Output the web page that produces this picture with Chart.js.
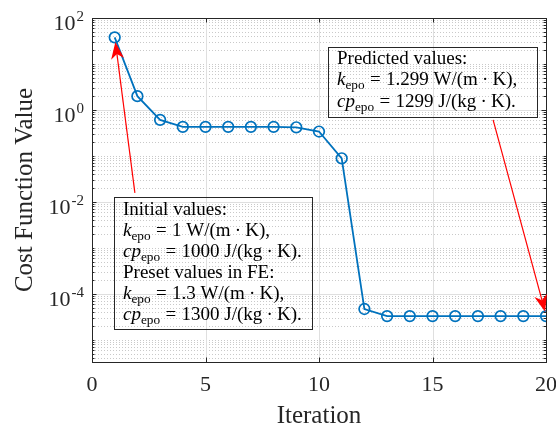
<!DOCTYPE html>
<html>
<head>
<meta charset="utf-8">
<script src="https://cdn.jsdelivr.net/npm/chart.js@4/dist/chart.umd.min.js"></script>
<style>
  html, body { margin: 0; padding: 0; background: #ffffff; }
  #c { display: block; }
</style>
</head>
<body>
<canvas id="c" width="556" height="432"></canvas>
<script>
// ---------- data ----------
const iterations = [1, 2, 3, 4, 5, 6, 7, 8, 9, 10, 11, 12, 13, 14, 15, 16, 17, 18, 19, 20];
const costValues = [38, 2.0, 0.61, 0.43, 0.43, 0.43, 0.43, 0.43, 0.42, 0.34, 0.089, 4.7e-5,
                    3.3e-5, 3.3e-5, 3.3e-5, 3.3e-5, 3.3e-5, 3.3e-5, 3.3e-5, 3.3e-5];
const xTickValues = [0, 5, 10, 15, 20];
const yTickExponents = [2, 0, -2, -4];
const xLimits = [0, 20];
const yLimitExponents = [-5.48, 2];
const xTitle = 'Iteration';
const yTitle = 'Cost Function Value';
const predictedText = ['Predicted values:',
  '*k*_{epo} = 1.299 W/(m · K),',
  '*cp*_{epo} = 1299 J/(kg · K).'];
const initialText = ['Initial values:',
  '*k*_{epo} = 1 W/(m · K),',
  '*cp*_{epo} = 1000 J/(kg · K).',
  'Preset values in FE:',
  '*k*_{epo} = 1.3 W/(m · K),',
  '*cp*_{epo} = 1300 J/(kg · K).'];
// arrows in data coordinates: [tailX, tailY, tipX, tipY]
const arrowInitial = [1.89, 0.0157, 1.03, 30];
const arrowPredicted = [17.67, 0.607, 19.96, 4.1e-5];

// ---------- styles ----------
const SERIF = '"Liberation Serif", "Times New Roman", serif';
const TEXT = '#262626';
const LINE = '#0072BD';

function parseRich(str) {
  const segs = [];
  const re = /\*([^*]+)\*|_\{([^}]+)\}|([^*_]+)/g;
  let m;
  while ((m = re.exec(str)) !== null) {
    if (m[1]) segs.push({ t: m[1], it: true });
    else if (m[2]) segs.push({ t: m[2], sub: true });
    else segs.push({ t: m[3] });
  }
  return segs;
}
function drawRich(ctx, str, x, y, size) {
  for (const s of parseRich(str)) {
    const fs = s.sub ? size * 0.7 : size;
    ctx.font = (s.it ? 'italic ' : '') + fs + 'px ' + SERIF;
    const dy = s.sub ? size * 0.22 : 0;
    if (!s.it && !s.sub) {
      // math-like spacing around relations and binary operators
      const parts = s.t.split(/( = | · )/);
      for (const p of parts) {
        if (p === ' = ') {
          x += size * 0.28;
          ctx.fillText('=', x, y);
          x += ctx.measureText('=').width + size * 0.28;
        } else if (p === ' · ') {
          x += size * 0.22;
          ctx.fillText('·', x, y);
          x += ctx.measureText('·').width + size * 0.22;
        } else if (p.length) {
          ctx.fillText(p, x, y);
          x += ctx.measureText(p).width;
        }
      }
    } else {
      ctx.fillText(s.t, x, y + dy);
      x += ctx.measureText(s.t).width;
    }
  }
}
function drawBox(ctx, lines, left, top, width, height, size, firstBase, step) {
  ctx.save();
  ctx.strokeStyle = TEXT;
  ctx.lineWidth = 1;
  ctx.strokeRect(Math.round(left) + 0.5, Math.round(top) + 0.5, width, height);
  ctx.fillStyle = '#000000';
  ctx.textBaseline = 'alphabetic';
  ctx.textAlign = 'left';
  lines.forEach((ln, i) => drawRich(ctx, ln, left + 9, top + firstBase + i * step, size));
  ctx.restore();
}
function drawArrow(ctx, x0, y0, x1, y1) {
  const ang = Math.atan2(y1 - y0, x1 - x0);
  const L = 17, W = 6.5, back = 12;
  ctx.save();
  ctx.strokeStyle = '#ff0000';
  ctx.fillStyle = '#ff0000';
  ctx.lineWidth = 1.2;
  ctx.beginPath();
  ctx.moveTo(x0, y0);
  ctx.lineTo(x1 - Math.cos(ang) * back, y1 - Math.sin(ang) * back);
  ctx.stroke();
  const c = Math.cos(ang), s = Math.sin(ang);
  const bx = x1 - c * L, by = y1 - s * L;
  ctx.beginPath();
  ctx.moveTo(x1, y1);
  ctx.lineTo(bx - s * W, by + c * W);
  ctx.lineTo(x1 - c * back, y1 - s * back);
  ctx.lineTo(bx + s * W, by - c * W);
  ctx.closePath();
  ctx.fill();
  ctx.restore();
}

const matlabAxes = {
  id: 'matlabAxes',
  beforeDatasetsDraw(chart) {
    const { ctx, chartArea: a, scales: { x, y } } = chart;
    ctx.save();
    ctx.beginPath();
    ctx.rect(a.left, a.top, a.right - a.left, a.bottom - a.top);
    ctx.clip();
    // minor y grid (dotted)
    ctx.strokeStyle = '#c9c9c9';
    ctx.lineWidth = 1;
    ctx.setLineDash([1, 2]);
    for (let e = Math.floor(yLimitExponents[0]); e <= yLimitExponents[1]; e++) {
      for (let k = 1; k <= 9; k++) {
        const v = k * Math.pow(10, e);
        if (k === 1 && yTickExponents.includes(e)) continue;
        const py = Math.round(y.getPixelForValue(v)) + 0.5;
        if (py < a.top || py > a.bottom) continue;
        ctx.beginPath(); ctx.moveTo(a.left, py); ctx.lineTo(a.right, py); ctx.stroke();
      }
    }
    ctx.setLineDash([]);
    // major grid (solid)
    ctx.strokeStyle = '#dfdfdf';
    yTickExponents.forEach(e => {
      const py = Math.round(y.getPixelForValue(Math.pow(10, e))) + 0.5;
      ctx.beginPath(); ctx.moveTo(a.left, py); ctx.lineTo(a.right, py); ctx.stroke();
    });
    xTickValues.forEach(v => {
      const px = Math.round(x.getPixelForValue(v)) + 0.5;
      ctx.beginPath(); ctx.moveTo(px, a.top); ctx.lineTo(px, a.bottom); ctx.stroke();
    });
    ctx.restore();
  },
  afterDatasetsDraw(chart) {
    const { ctx, chartArea: a, scales: { x, y } } = chart;
    ctx.save();
    // ticks (inside)
    ctx.strokeStyle = TEXT;
    ctx.lineWidth = 1;
    xTickValues.forEach(v => {
      const px = Math.round(x.getPixelForValue(v)) + 0.5;
      ctx.beginPath();
      ctx.moveTo(px, a.bottom); ctx.lineTo(px, a.bottom - 4.5);
      ctx.moveTo(px, a.top); ctx.lineTo(px, a.top + 4.5);
      ctx.stroke();
    });
    for (let e = Math.floor(yLimitExponents[0]); e <= yLimitExponents[1]; e++) {
      for (let k = 1; k <= 9; k++) {
        const v = k * Math.pow(10, e);
        const py = Math.round(y.getPixelForValue(v)) + 0.5;
        if (py < a.top - 0.5 || py > a.bottom + 0.5) continue;
        const len = (k === 1 && yTickExponents.includes(e)) ? 4.5 : 2.5;
        ctx.beginPath();
        ctx.moveTo(a.left, py); ctx.lineTo(a.left + len, py);
        ctx.moveTo(a.right, py); ctx.lineTo(a.right - len, py);
        ctx.stroke();
      }
    }
    // frame
    ctx.strokeStyle = TEXT;
    ctx.strokeRect(Math.round(a.left) + 0.5, Math.round(a.top) + 0.5,
                   Math.round(a.right - a.left), Math.round(a.bottom - a.top));
    // y tick labels with superscripts
    ctx.fillStyle = TEXT;
    ctx.textBaseline = 'alphabetic';
    ctx.textAlign = 'left';
    yTickExponents.forEach(e => {
      const py = y.getPixelForValue(Math.pow(10, e));
      ctx.font = '22px ' + SERIF;
      const wBase = ctx.measureText('10').width;
      ctx.font = '15px ' + SERIF;
      const expStr = String(e);
      const wExp = ctx.measureText(expStr).width;
      const rightEdge = a.left - 8;
      const x0 = rightEdge - wExp - wBase - 1;
      ctx.font = '22px ' + SERIF;
      ctx.fillText('10', x0, py + 12);
      ctx.font = '15px ' + SERIF;
      ctx.fillText(expStr, x0 + wBase + 1, py + 3);
    });
    ctx.restore();
    // arrows
    const pa = arrowInitial, pb = arrowPredicted;
    drawArrow(ctx, x.getPixelForValue(pa[0]), y.getPixelForValue(pa[1]),
              x.getPixelForValue(pa[2]), y.getPixelForValue(pa[3]));
    drawArrow(ctx, x.getPixelForValue(pb[0]), y.getPixelForValue(pb[1]),
              x.getPixelForValue(pb[2]), y.getPixelForValue(pb[3]));
    // annotation boxes (transparent, like the reference)
    drawBox(ctx, predictedText, a.left + 236, a.top + 29, 209, 70, 19, 17, 21.3);
    drawBox(ctx, initialText, a.left + 22, a.top + 179, 198, 132, 19, 18, 21);
  }
};

const chart = new Chart(document.getElementById('c'), {
  type: 'line',
  data: {
    datasets: [{
      data: iterations.map((it, i) => ({ x: it, y: costValues[i] })),
      borderColor: LINE,
      borderWidth: 1.8,
      pointRadius: 5.3,
      pointBorderWidth: 1.7,
      pointBorderColor: LINE,
      pointBackgroundColor: 'rgba(0,0,0,0)',
      fill: false,
      tension: 0
    }]
  },
  options: {
    responsive: false,
    animation: false,
    devicePixelRatio: 1,
    layout: { padding: { top: 18, right: 10, left: 0, bottom: 0 } },
    plugins: { legend: { display: false }, tooltip: { enabled: false } },
    scales: {
      x: {
        type: 'linear',
        min: xLimits[0], max: xLimits[1],
        afterBuildTicks: s => { s.ticks = xTickValues.map(v => ({ value: v })); },
        ticks: { font: { family: SERIF, size: 22 }, color: TEXT, padding: 10, maxRotation: 0, autoSkip: false },
        grid: { display: false, drawTicks: false },
        border: { display: false },
        title: { display: true, text: xTitle, font: { family: SERIF, size: 25 }, color: TEXT, padding: { top: 0, bottom: 1 } },
        afterFit: s => { s.height = 70; s.paddingLeft = 0; s.paddingRight = 0; }
      },
      y: {
        type: 'logarithmic',
        min: Math.pow(10, yLimitExponents[0]), max: Math.pow(10, yLimitExponents[1]),
        ticks: { display: false },
        grid: { display: false, drawTicks: false },
        border: { display: false },
        title: { display: true, text: yTitle, font: { family: SERIF, size: 25 }, color: TEXT, padding: { top: 10, bottom: 0 } },
        afterFit: s => { s.width = 92; s.paddingTop = 0; s.paddingBottom = 0; }
      }
    }
  },
  plugins: [matlabAxes]
});
</script>
</body>
</html>
